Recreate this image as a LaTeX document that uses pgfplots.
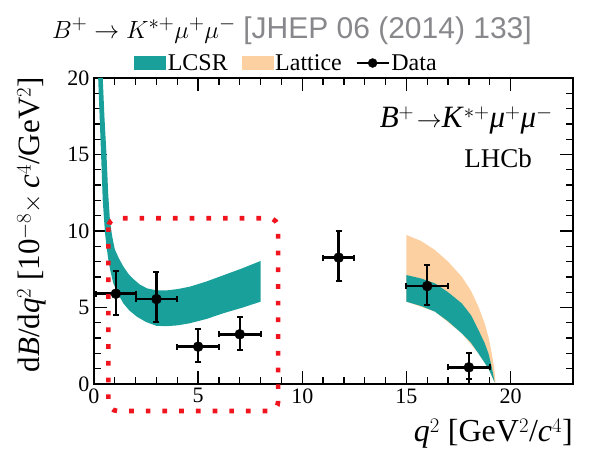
\documentclass[border=0pt]{standalone}
\usepackage{fontspec}
\setmainfont{Liberation Serif}
\newfontfamily\graysans{Liberation Sans}
\usepackage{pgfplots}
\pgfplotsset{compat=1.18}
\definecolor{lcsr}{RGB}{26,160,155}
\definecolor{latt}{RGB}{253,208,162}
\definecolor{refgray}{RGB}{135,135,140}
\definecolor{boxred}{RGB}{240,20,30}
\newcommand{\decay}{\textit{B}$^{+}\!\rightarrow$\textit{K}$^{*+}$\textit{μ}$^{+}$\textit{μ}$^{-}$}
\begin{document}
\begin{tikzpicture}
\begin{axis}[
  at={(0pt,0pt)}, anchor=south west,
  scale only axis, width=479pt, height=306pt,
  xmin=0, xmax=23, ymin=0, ymax=20,
  clip=false,
  xtick={0,5,10,15,20}, ytick={0,5,10,15,20},
  minor x tick num=4, minor y tick num=4,
  tick align=inside, major tick length=13pt, minor tick length=7pt,
  axis line style={line width=1.6pt},
  every tick/.style={black, line width=1.3pt},
  ticklabel style={font=\fontsize{22}{24}\selectfont},
  /pgf/number format/assume math mode=true,
  xticklabel style={yshift=-1pt},
  yticklabel style={xshift=-1pt},
  xlabel={\textit{q}$^{2}$ [GeV$^{2}$/\textit{c}$^{4}$]},
  xlabel style={at={(axis description cs:1,-0.163)}, anchor=east, inner sep=0pt, font=\fontsize{32}{34}\selectfont},
  ylabel={d\textit{B}/d\textit{q}$^{2}$ [10$^{-8}\times$\,\textit{c}$^{4}$/GeV$^{2}$]},
  ylabel style={at={(axis description cs:-0.13,1.003)}, anchor=east, inner sep=0pt, font=\fontsize{31}{33}\selectfont},
  legend columns=3,
  legend style={at={(axis description cs:0.402,1.049)}, anchor=center, draw=none, fill=none,
    font=\fontsize{24}{26}\selectfont, inner sep=0pt,
    /tikz/every even column/.append style={column sep=12pt}},
]
\addlegendimage{legend image code/.code={\fill[lcsr] (0pt,-6.5pt) rectangle (31pt,6.5pt);}}
\addlegendentry{LCSR}
\addlegendimage{legend image code/.code={\fill[latt] (0pt,-6.5pt) rectangle (31pt,6.5pt);}}
\addlegendentry{Lattice}
\addlegendimage{legend image code/.code={\draw[black, line width=1.5pt] (0pt,0pt) -- (32pt,0pt); \fill[black] (16pt,0pt) circle (4.5pt);}}
\addlegendentry{Data}

% LCSR band, low q2
\addplot[fill=lcsr, draw=none, forget plot] coordinates {
 (0.42,20) (0.5,17.5) (0.6,15) (0.68,12.5) (0.77,10.6) (0.88,9.6) (1.0,8.8) (1.2,8.2) (1.4,7.7)
 (1.65,7.2) (1.9,6.85) (2.2,6.5) (2.55,6.25) (3.0,6.12) (3.5,6.12) (4.0,6.2) (4.6,6.36) (5.4,6.7)
 (6.2,7.1) (7.1,7.55) (8.0,8.04)
 (8.0,5.38) (7.1,4.98) (6.2,4.62) (5.4,4.25) (4.6,3.97) (4.0,3.83) (3.5,3.78) (3.0,3.8) (2.5,4.05)
 (2.06,4.4) (1.7,4.8) (1.41,5.27) (1.15,5.9) (0.93,6.58) (0.8,7.3) (0.69,8.1) (0.6,9.0) (0.53,9.85)
 (0.47,11) (0.42,12) (0.34,15) (0.27,17.5) (0.2,20)
} -- cycle;

% Lattice band, high q2
\addplot[fill=latt, draw=none, forget plot] coordinates {
 (15,9.74) (15.7,9.35) (16.37,8.76) (17.0,8.0) (17.66,7.01) (18.1,6.1) (18.46,5.05) (18.75,4.0)
 (18.94,3.09) (19.1,2.0) (19.22,1.0) (19.28,0.1)
 (19.24,0.1) (18.94,1.02) (18.46,2.0) (17.66,3.31) (16.37,4.73) (15,5.38)
} -- cycle;

% LCSR band, high q2
\addplot[fill=lcsr, draw=none, forget plot] coordinates {
 (15,7.12) (15.7,6.9) (16.37,6.58) (17.0,6.0) (17.66,5.27) (18.1,4.5) (18.46,3.53) (18.75,2.7)
 (18.94,2.0) (19.1,1.1) (19.2,0.4) (19.24,0.1)
 (18.94,1.02) (18.7,1.5) (18.46,2.0) (18.1,2.7) (17.66,3.31) (17.0,4.1) (16.37,4.73) (15.7,5.1) (15,5.38)
} -- cycle;

% Data
\addplot[black, only marks, mark=*, mark size=5pt, forget plot,
  error bars/.cd, x dir=both, x explicit, y dir=both, y explicit,
  error bar style={line width=2.5pt},
  error mark options={rotate=90, mark size=3pt, line width=2pt}]
 coordinates {
 (1.05,5.9)  += (0.95,1.5)  -= (0.95,1.4)
 (3.0,5.55)  += (1.0,1.75)  -= (1.0,1.5)
 (5.0,2.44)  += (1.0,1.16)  -= (1.0,1.0)
 (7.0,3.25)  += (1.0,1.15)  -= (1.0,1.03)
 (11.75,8.26) += (0.75,1.74) -= (0.75,1.56)
 (16.0,6.4)  += (1.0,1.36)  -= (1.0,1.24)
 (18.0,1.09) += (1.0,0.96)  -= (1.0,0.78)
};

\draw[boxred, line width=4.7pt, dash pattern=on 4.7pt off 12pt, rounded corners=9pt]
  (axis cs:0.69,10.83) rectangle (axis cs:8.84,-1.76);
\end{axis}
\node[anchor=base west, inner sep=0pt, font=\fontsize{30}{32}\selectfont] at (-42pt,345pt)
  {$B^{+}\to K^{*+}\mu^{+}\mu^{-}$\ {\graysans\color{refgray}[JHEP 06 (2014) 133]}};
\node[anchor=base east, inner sep=0pt, font=\fontsize{31}{33}\selectfont] at (459pt,256pt) {\decay};
\node[anchor=base east, inner sep=0pt, font=\fontsize{27}{29}\selectfont] at (438pt,216pt) {LHCb};
\pgfresetboundingbox
\path (-94pt,-65pt) rectangle (506pt,384pt);
\end{tikzpicture}
\end{document}
